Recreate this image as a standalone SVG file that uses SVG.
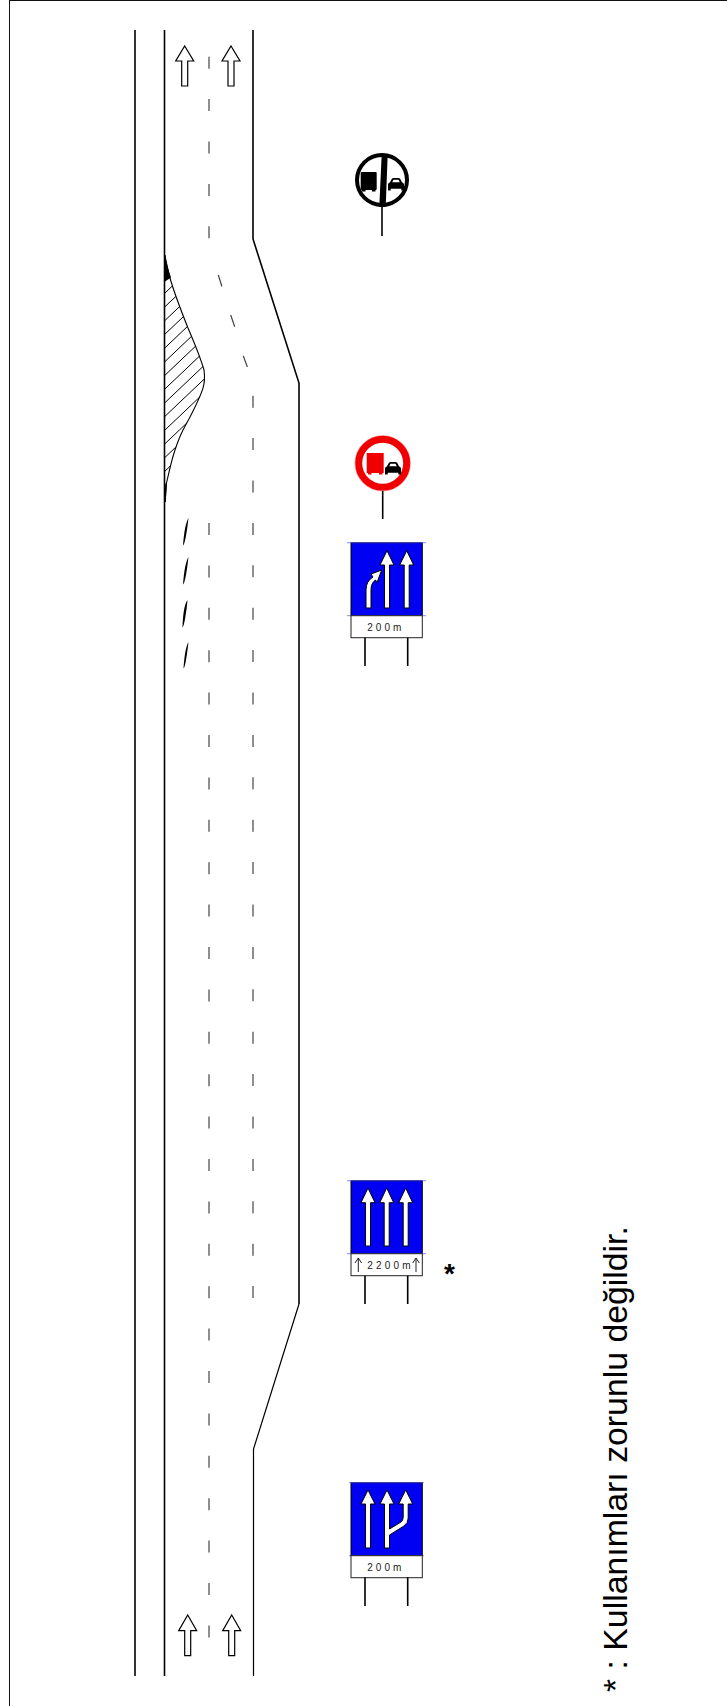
<svg xmlns="http://www.w3.org/2000/svg" width="727" height="1706" viewBox="0 0 727 1706">
<style>
.road{fill:none;stroke:#000;stroke-width:1.6}
.dash{fill:none;stroke:#444;stroke-width:1.2}
.lane{fill:#fff;stroke:#000;stroke-width:1.2}
.white{fill:#fff;stroke:#000;stroke-width:1}
.blue{fill:#0000f2;stroke:#000;stroke-width:1}
.tick{stroke:#5a5aff;stroke-width:1;opacity:.7}
.panel{fill:#fff;stroke:#222;stroke-width:1}
.post{stroke:#000;stroke-width:1.6}
.dist{font-family:"Liberation Sans",Arial,sans-serif;font-size:10px;letter-spacing:3px;fill:#222}
.hatch{stroke:#000;stroke-width:1}
</style>
<defs>
<clipPath id="hz"><path d="M165,281 L170,278 C174,292 178,303 188,328 C194,342 200,356 204,370 C205,377 204.5,383 203,388 C201,394 199,401 183,430 C180,436 178,441 175,450 C172,459 171,464 170,468 L166.500,483 L165,502 Z"/></clipPath>
<path id="car" d="M0,12.500V6.500Q0,5 2,4.300L3.700,1Q4.300,0 5.700,0H10.300Q11.700,0 12.300,1L14,4.300Q16,5 16,6.500V12.500H13.300V10.800H2.700V12.500Z M4.200,4.300H11.800L10.500,1.700H5.500Z" fill-rule="evenodd"/>
</defs>
<rect id="frame-top" x="9.500" y="0.500" width="730" height="1720" fill="none" stroke="#111" stroke-width="1"/>
<g id="roadway">
<path class="road" d="M135,30V1676"/>
<path class="road" d="M164.500,30V1676"/>
<path class="road" d="M253,30V239L299,383V1304"/>
<path class="road" d="M299,1304L253.500,1449V1676" style="stroke-width:1.2"/>
</g>
<g id="lane-dashes">
<path class="dash" d="M209,56.700V239" stroke-dasharray="12 30.400"/>
<path class="dash" d="M209,523V1640" stroke-dasharray="12 30.400"/>
<path class="dash" d="M253,395.700V1299" stroke-dasharray="12 30.400"/>
<path class="dash" d="M218.300,275L221.900,286.500M230.700,315L234.700,326.700M243.200,355.700L247.400,367"/>
</g>
<g id="hatched-island">
<g clip-path="url(#hz)">
<path class="hatch" d="M165,293L225,236M165,306.700L225,249.700M165,320.400L225,263.400M165,334.100L225,277.100M165,347.800L225,290.800M165,361.500L225,304.500M165,375.200L225,318.200M165,388.900L225,331.900M165,402.600L225,345.600M165,416.300L225,359.300M165,430L225,373M165,443.700L225,386.700M165,457.400L225,400.400M165,471.100L225,414.100M165,484.800L225,427.800"/>
</g>
<path fill="none" stroke="#000" stroke-width="1.100" d="M165,255 C166,262 168,270 170,278 C174,292 178,303 188,328 C194,342 200,356 204,370 C205,377 204.500,383 203,388 C201,394 199,401 183,430 C180,436 178,441 175,450 C172,459 171,464 170,468 L166.500,483 L165,502"/>
<path d="M165,255C166.500,263 168.500,271 171,277.500L165,281.500Z M165,486L166.800,483L165.800,502H165Z" fill="#000"/>
</g>
<g id="chevrons" fill="#000">
<path d="M188.500,518C186,522 184,531 183,545.500C185,544 187,530 187.500,526Z"/>
<path d="M188.500,557C186,561 184,570 183,584.500C185,583 187,569 187.500,565Z"/>
<path d="M187.500,600C184.500,604 183,613 182.500,627.500C184.500,626 186,612 186.700,608Z"/>
<path d="M188.500,642C186,646 184.500,655 183.500,668.500C185.500,667 187,653 187.500,650Z"/>
</g>
<g id="lane-arrows">
<path class="lane" d="M184.700,46L193.700,61H187.700V86H181.700V61H175.700Z"/>
<path class="lane" d="M231,46L240,61H234V86H228V61H222Z"/>
<path class="lane" d="M187.700,1615L196.700,1630.700H190.700V1655.700H184.700V1630.700H178.700Z"/>
<path class="lane" d="M231.700,1615L240.700,1630.700H234.700V1655.700H228.700V1630.700H222.700Z"/>
</g>
<g id="sign-end-no-overtaking">
<circle cx="382" cy="180" r="25" fill="#fff" stroke="#000" stroke-width="4"/>
<rect x="360.700" y="172" width="16" height="18" rx="1" fill="#000"/>
<path d="M362,190h3.500v1.500h-3.500zM372,190h3.500v1.500h-3.500z" fill="#000"/>
<use href="#car" x="388" y="178" fill="#000"/>
<path d="M381.700,154H387.700L385.700,207H379.300Z" fill="#000"/>
<path class="post" d="M382,207V236"/>
</g>
<g id="sign-no-overtaking">
<circle cx="382.700" cy="463.300" r="27.800" fill="none" stroke="#ff8080" stroke-width="1" opacity=".5"/>
<circle cx="382.700" cy="463.300" r="24" fill="#fff" stroke="#f00000" stroke-width="7"/>
<rect x="366.700" y="453" width="17" height="20" fill="#f00000"/>
<path d="M368,473h3.500v1.500h-3.500zM379,473h3.500v1.500h-3.500z" fill="#f00000"/>
<use href="#car" x="385" y="462" fill="#000"/>
<path class="post" d="M382.700,491V519"/>
</g>
<g id="sign-lanes-200m-top">
<rect class="blue" x="351" y="542.700" width="71.300" height="73"/>
<path class="tick" d="M347,542.700H426M347,615.700H426"/>
<rect class="panel" x="351" y="615.700" width="71.300" height="22"/>
<path class="post" d="M365,637.700V666M407.700,637.700V666"/>
<path class="white" d="M387,550.700L394,565H389.500V608H384.500V565H380Z"/>
<path class="white" d="M406.700,550.700L413.700,565H409.200V608H404.200V565H399.700Z"/>
<path class="white" d="M371,608H366V590Q366,581 373,577L371,574L381.700,570L377,582.500L375.500,580Q371,583 371,590Z"/>
<text class="dist" x="367.300" y="630.700">200m</text>
</g>
<g id="sign-lanes-2200m">
<rect class="blue" x="351" y="1180.700" width="71.300" height="73"/>
<path class="tick" d="M347,1180.700H426M347,1253.700H426"/>
<rect class="panel" x="351" y="1253.700" width="71.300" height="22"/>
<path class="post" d="M365,1275.700V1304M407.700,1275.700V1304"/>
<path class="white" d="M368,1188L375,1202.700H370.500V1246H365.500V1202.700H361Z"/>
<path class="white" d="M386.700,1188L393.700,1202.700H389.200V1246H384.200V1202.700H379.700Z"/>
<path class="white" d="M405.700,1188L412.700,1202.700H408.200V1246H403.200V1202.700H398.700Z"/>
<path fill="none" stroke="#222" stroke-width="1" d="M358.300,1272V1258.500M355,1263L358.300,1258L361.600,1263M416,1272V1258.500M412.700,1263L416,1258L419.300,1263"/>
<text class="dist" x="367.300" y="1269" style="letter-spacing:3.200px">2200m</text>
</g>
<text id="optional-mark" x="444" y="1283" font-family="Liberation Sans,Arial,sans-serif" font-size="28" font-weight="bold" fill="#000">*</text>
<g id="sign-lanes-200m-bottom">
<rect class="blue" x="351" y="1482.700" width="71.300" height="73"/>
<path class="tick" d="M349,1482.700H424M349,1555.700H424"/>
<rect class="panel" x="351" y="1555.700" width="71.300" height="22"/>
<path class="post" d="M365,1577.300V1606M407.700,1577.300V1606"/>
<path class="white" d="M368,1490L375,1504H370.500V1548H365.500V1504H361Z"/>
<path class="white" d="M387,1490L394,1504H389.500V1529L401,1522Q403.200,1520.500 403.200,1517V1504H398.700L405.700,1490L412.700,1504H408.200V1518Q408.200,1523 404,1526L389.500,1535V1548H384.500V1504H380Z"/>
<text class="dist" x="367.300" y="1570.700">200m</text>
</g>
<text id="note" transform="translate(626.700,1692) rotate(-90)" font-family="Liberation Sans,Arial,sans-serif" font-size="33.800" fill="#000">* : Kullanımları zorunlu değildir.</text>
</svg>
